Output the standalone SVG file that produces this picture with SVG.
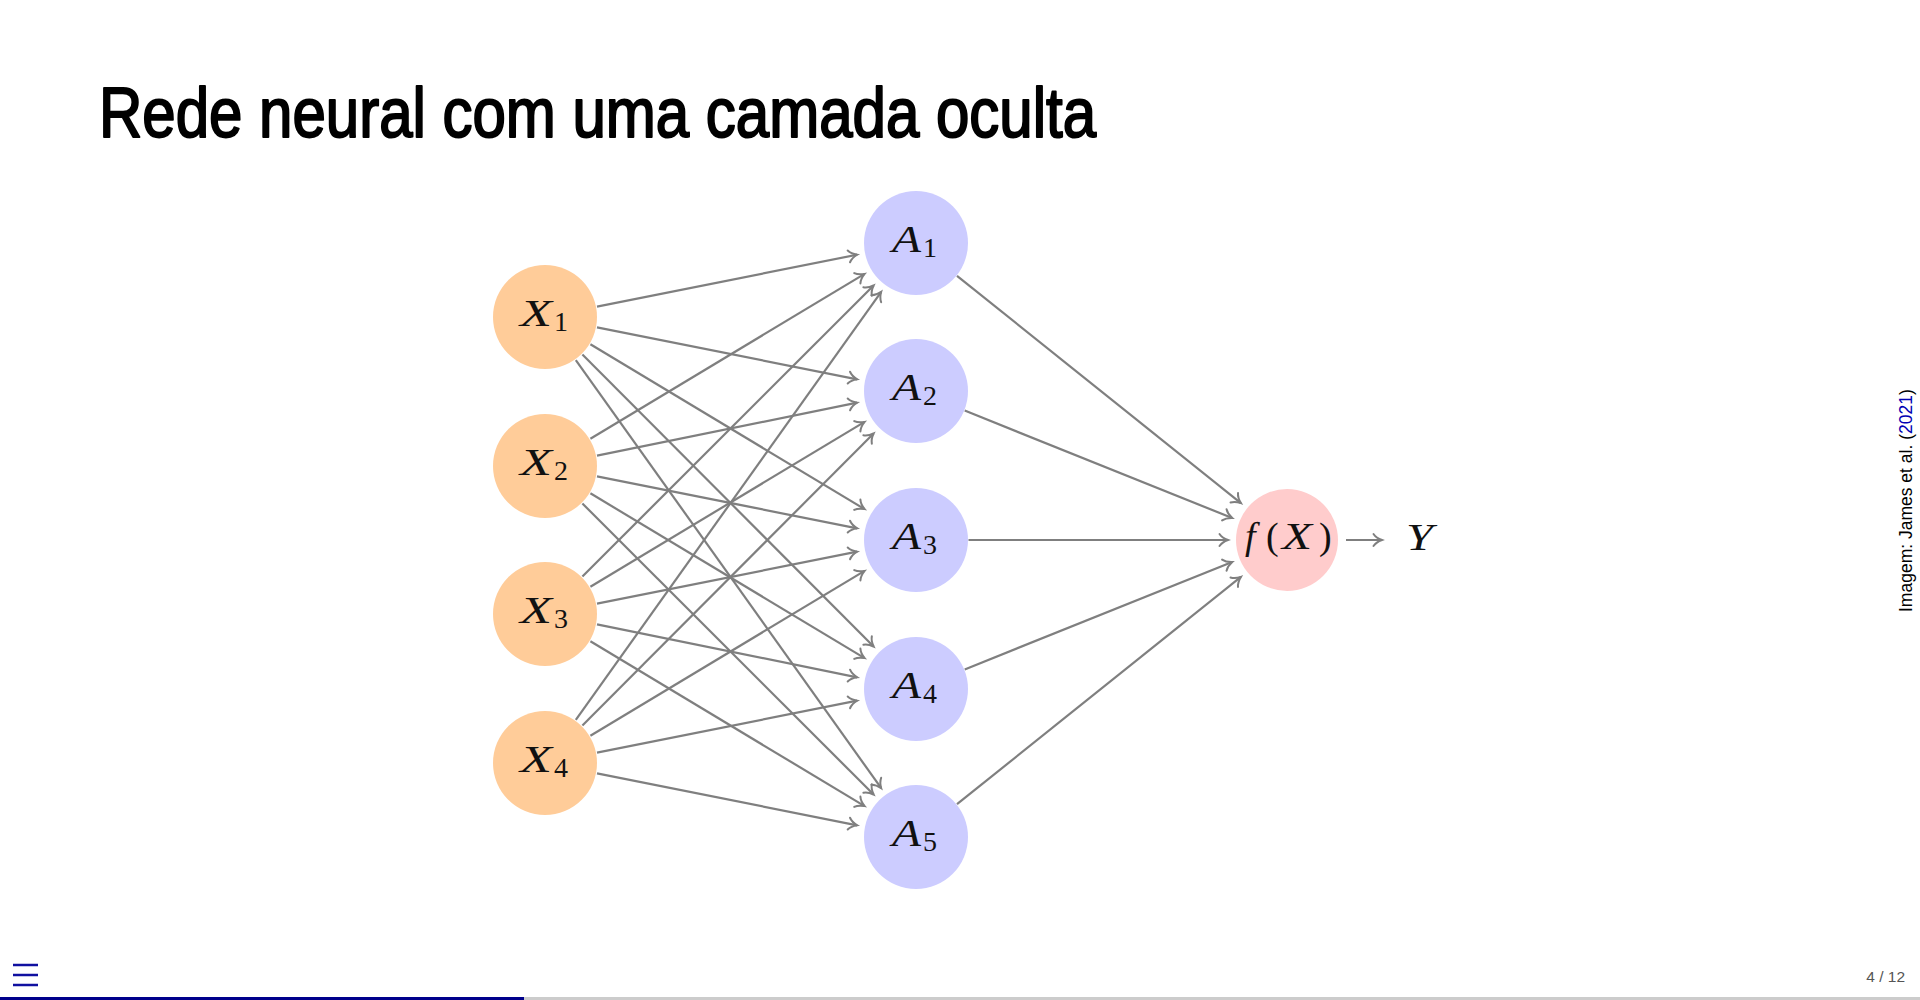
<svg xmlns="http://www.w3.org/2000/svg" width="1920" height="1000" viewBox="0 0 1920 1000">
<style>
.title{font-family:"Liberation Sans",Arial,sans-serif;font-size:70px;fill:#000;stroke:#000;stroke-width:2;stroke-linejoin:round}
.mi{font-family:"Liberation Serif","Times New Roman",serif;font-style:italic;font-size:38px;fill:#111}
.up{font-family:"Liberation Serif","Times New Roman",serif;font-size:38px;fill:#111}
.sub{font-family:"Liberation Serif","Times New Roman",serif;font-size:28px;fill:#111}
.in{fill:#FFCC99}
.hid{fill:#CCCCFF}
.out{fill:#FFCCCC}
.edge line{stroke:#7F7F7F;stroke-width:2.2;fill:none;marker-end:url(#to)}
.cite{font-family:"Liberation Sans",Arial,sans-serif;font-size:17.5px;fill:#000}
.pg{font-family:"Liberation Sans",Arial,sans-serif;font-size:15.5px;fill:#555}
</style>
<defs>
<marker id="to" markerUnits="userSpaceOnUse" viewBox="-10 -10 20 20" markerWidth="20" markerHeight="20" refX="0" refY="0" orient="auto">
<path d="M-8.5,-6 C-6.5,-3 -2.2,-0.8 0,0 C-2.2,0.8 -6.5,3 -8.5,6" fill="none" stroke="#7F7F7F" stroke-width="2" stroke-linecap="round"/>
</marker>
</defs>
<rect width="1920" height="1000" fill="#fff"/>
<text class="title" x="99" y="137" textLength="997" lengthAdjust="spacingAndGlyphs">Rede neural com uma camada oculta</text>

<g class="edge" id="connectors">
<line x1="597" y1="306.6" x2="857.2" y2="254.7"/>
<line x1="597" y1="327.4" x2="857.2" y2="379.3"/>
<line x1="590.4" y1="344.3" x2="864.6" y2="509.1"/>
<line x1="582.4" y1="354.5" x2="873.6" y2="646.5"/>
<line x1="575.8" y1="360.1" x2="881.2" y2="788.2"/>
<line x1="590.4" y1="438.7" x2="864.6" y2="273.9"/>
<line x1="597" y1="455.6" x2="857.2" y2="402.7"/>
<line x1="597" y1="476.4" x2="857.2" y2="528.3"/>
<line x1="590.4" y1="493.3" x2="864.6" y2="658.1"/>
<line x1="582.4" y1="503.5" x2="873.6" y2="794.5"/>
<line x1="582.4" y1="576.5" x2="873.6" y2="285.5"/>
<line x1="590.4" y1="586.7" x2="864.6" y2="421.9"/>
<line x1="597" y1="603.6" x2="857.2" y2="551.7"/>
<line x1="597" y1="624.4" x2="857.2" y2="677.3"/>
<line x1="590.4" y1="641.3" x2="864.6" y2="806.1"/>
<line x1="575.8" y1="719.9" x2="881.2" y2="291.8"/>
<line x1="582.4" y1="725.5" x2="873.6" y2="433.5"/>
<line x1="590.4" y1="735.7" x2="864.6" y2="570.9"/>
<line x1="597" y1="752.6" x2="857.2" y2="700.7"/>
<line x1="597" y1="773.4" x2="857.2" y2="825.3"/>
<line x1="957" y1="275.8" x2="1240.9" y2="503.1"/>
<line x1="964.7" y1="410.6" x2="1232.2" y2="518"/>
<line x1="968.5" y1="540" x2="1228" y2="540"/>
<line x1="964.7" y1="669.4" x2="1232.2" y2="562"/>
<line x1="957" y1="804.2" x2="1240.9" y2="576.9"/>
<line x1="1346" y1="540" x2="1382" y2="540"/>
</g>

<g id="X1"><circle class="in" cx="545" cy="317" r="52"/><text class="mi" x="520" y="326" textLength="32" lengthAdjust="spacingAndGlyphs">X</text><text class="sub" x="554" y="331">1</text></g>
<g id="X2"><circle class="in" cx="545" cy="466" r="52"/><text class="mi" x="520" y="475" textLength="32" lengthAdjust="spacingAndGlyphs">X</text><text class="sub" x="554" y="480">2</text></g>
<g id="X3"><circle class="in" cx="545" cy="614" r="52"/><text class="mi" x="520" y="623" textLength="32" lengthAdjust="spacingAndGlyphs">X</text><text class="sub" x="554" y="628">3</text></g>
<g id="X4"><circle class="in" cx="545" cy="763" r="52"/><text class="mi" x="520" y="772" textLength="32" lengthAdjust="spacingAndGlyphs">X</text><text class="sub" x="554" y="777">4</text></g>

<g id="A1"><circle class="hid" cx="916" cy="243" r="52"/><text class="mi" x="892" y="252" textLength="29" lengthAdjust="spacingAndGlyphs">A</text><text class="sub" x="923" y="257">1</text></g>
<g id="A2"><circle class="hid" cx="916" cy="391" r="52"/><text class="mi" x="892" y="400" textLength="29" lengthAdjust="spacingAndGlyphs">A</text><text class="sub" x="923" y="405">2</text></g>
<g id="A3"><circle class="hid" cx="916" cy="540" r="52"/><text class="mi" x="892" y="549" textLength="29" lengthAdjust="spacingAndGlyphs">A</text><text class="sub" x="923" y="554">3</text></g>
<g id="A4"><circle class="hid" cx="916" cy="689" r="52"/><text class="mi" x="892" y="698" textLength="29" lengthAdjust="spacingAndGlyphs">A</text><text class="sub" x="923" y="703">4</text></g>
<g id="A5"><circle class="hid" cx="916" cy="837" r="52"/><text class="mi" x="892" y="846" textLength="29" lengthAdjust="spacingAndGlyphs">A</text><text class="sub" x="923" y="851">5</text></g>

<g id="fX"><circle class="out" cx="1287" cy="540" r="51"/>
<text class="mi" x="1245" y="549">f</text><text class="up" x="1266" y="549">(</text><text class="mi" x="1282" y="549" textLength="30" lengthAdjust="spacingAndGlyphs">X</text><text class="up" x="1319" y="549">)</text></g>
<g id="Y"><text class="mi" x="1406" y="550" textLength="27" lengthAdjust="spacingAndGlyphs">Y</text></g>

<text class="cite" transform="translate(1912,612) rotate(-90)">Imagem: James et al. (<tspan fill="#0000B3">2021</tspan>)</text>

<g id="nav">
<line x1="13" y1="965" x2="38" y2="965" stroke="#1010A0" stroke-width="2.5"/>
<line x1="13" y1="975" x2="38" y2="975" stroke="#1010A0" stroke-width="2.5"/>
<line x1="13" y1="985" x2="38" y2="985" stroke="#1010A0" stroke-width="2.5"/>
</g>
<text class="pg" x="1905" y="982" text-anchor="end">4 / 12</text>
<rect x="0" y="997" width="1920" height="3" fill="#CCCCCC"/>
<rect x="0" y="997" width="524" height="3" fill="#00008B"/>
</svg>
